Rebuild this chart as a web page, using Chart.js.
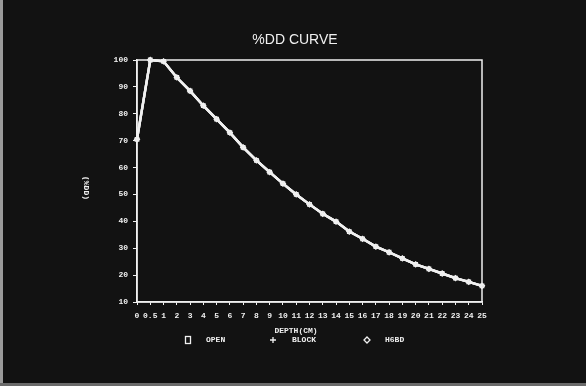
<!DOCTYPE html>
<html><head><meta charset="utf-8">
<script src="https://cdn.jsdelivr.net/npm/chart.js@4/dist/chart.umd.min.js"></script>
<style>html,body{margin:0;padding:0;background:#000;overflow:hidden}</style>
</head><body>
<canvas id="c" width="586" height="386" style="display:block;width:586px;height:386px"></canvas>
<script>
const depthLabels = ['0','0.5','1','2','3','4','5','6','7','8','9','10','11','12','13','14','15','16','17','18','19','20','21','22','23','24','25'];
const openValues  = [70.5,100,99.5,93.5,88.5,83,78,73,67.5,62.7,58.3,54,50,46.3,42.8,39.9,36.2,33.5,30.6,28.5,26.2,24,22.3,20.6,18.9,17.5,16];
const blockValues = [70.5,100,99.5,93.5,88.5,83,78,73,67.5,62.7,58.3,54,50,46.3,42.8,39.9,36.2,33.5,30.6,28.5,26.2,24,22.3,20.6,18.9,17.5,16];
const thirdValues = [70.5,100,99.5,93.5,88.5,83,78,73,67.5,62.7,58.3,54,50,46.3,42.8,39.9,36.2,33.5,30.6,28.5,26.2,24,22.3,20.6,18.9,17.5,16];
const seriesNames = ['OPEN','BLOCK','H6BD'];
const chartTitle = '%DD CURVE';
const xTitle = 'DEPTH(CM)';
const yTitle = '(%DD)';
const yMin = 10, yMax = 100, yStep = 10;

const FG = '#f0f0f0';
const tickFont = {family:'Liberation Mono', size:8, weight:'bold'};

const decor = {
  id:'decor',
  beforeDraw(chart){
    const ctx = chart.ctx;
    ctx.save();
    ctx.fillStyle = '#121212';
    ctx.fillRect(0,0,chart.width,chart.height);
    ctx.fillStyle = '#9a9a9a';
    ctx.fillRect(0,0,3,chart.height);
    ctx.fillStyle = '#6a6a6a';
    ctx.fillRect(0,chart.height-3,chart.width,3);
    ctx.restore();
  },
  afterDraw(chart){
    const ctx = chart.ctx, a = chart.chartArea;
    ctx.save();
    ctx.strokeStyle = FG; ctx.lineWidth = 1.5;
    ctx.strokeRect(a.left, a.top, a.right-a.left, a.bottom-a.top);
    ctx.fillStyle = FG;
    ctx.font = '14px "Liberation Sans"';
    ctx.textAlign = 'center'; ctx.textBaseline = 'middle';
    ctx.fillText(chartTitle, 295, 40);
    ctx.font = 'bold 8px "Liberation Mono"';
    ctx.fillText(xTitle, 296, 331);
    ctx.save();
    ctx.translate(86, 188);
    ctx.rotate(Math.PI/2);
    ctx.fillText(yTitle, 0, 0);
    ctx.restore();
    const ly = 340;
    const mx = [188, 273, 367], tx = [206, 292, 385];
    ctx.strokeStyle = FG; ctx.lineWidth = 1.3;
    ctx.strokeRect(mx[0]-2.5, ly-3.5, 5, 7);
    ctx.beginPath();
    ctx.moveTo(mx[1]-3, ly); ctx.lineTo(mx[1]+3, ly);
    ctx.moveTo(mx[1], ly-3); ctx.lineTo(mx[1], ly+3);
    ctx.stroke();
    ctx.beginPath();
    ctx.moveTo(mx[2], ly-3); ctx.lineTo(mx[2]+3, ly); ctx.lineTo(mx[2], ly+3); ctx.lineTo(mx[2]-3, ly); ctx.closePath();
    ctx.stroke();
    ctx.textAlign = 'left';
    seriesNames.forEach((n,i)=>ctx.fillText(n, tx[i], ly));
    ctx.restore();
  }
};

const mk = (label, data, style) => ({
  label, data,
  borderColor: FG, borderWidth: 2.4,
  pointStyle: style, pointRadius: 2.6,
  pointBorderColor: FG, pointBackgroundColor: 'rgba(0,0,0,0)', pointBorderWidth: 1.1,
  tension: 0, clip: 6
});

new Chart(document.getElementById('c'), {
  type:'line',
  data:{
    labels: depthLabels,
    datasets:[
      mk(seriesNames[0], openValues, 'rect'),
      mk(seriesNames[1], blockValues, 'cross'),
      mk(seriesNames[2], thirdValues, 'rectRot')
    ]
  },
  options:{
    responsive:false, animation:false, devicePixelRatio:1,
    layout:{padding:{top:60,right:104,left:0,bottom:0}},
    plugins:{legend:{display:false}, title:{display:false}, tooltip:{enabled:false}},
    scales:{
      x:{
        type:'category', offset:false,
        grid:{display:true, drawOnChartArea:false, color:FG, tickLength:3},
        border:{display:true, color:FG, width:1.5},
        ticks:{color:FG, font:tickFont, maxRotation:0, autoSkip:false, padding:6},
        afterFit(s){ s.height = 84; }
      },
      y:{
        min:yMin, max:yMax,
        grid:{display:true, drawOnChartArea:false, color:FG, tickLength:4},
        border:{display:true, color:FG, width:1.5},
        ticks:{color:FG, font:tickFont, stepSize:yStep, padding:5},
        afterFit(s){ s.width = 137; }
      }
    }
  },
  plugins:[decor]
});
</script>
</body></html>
